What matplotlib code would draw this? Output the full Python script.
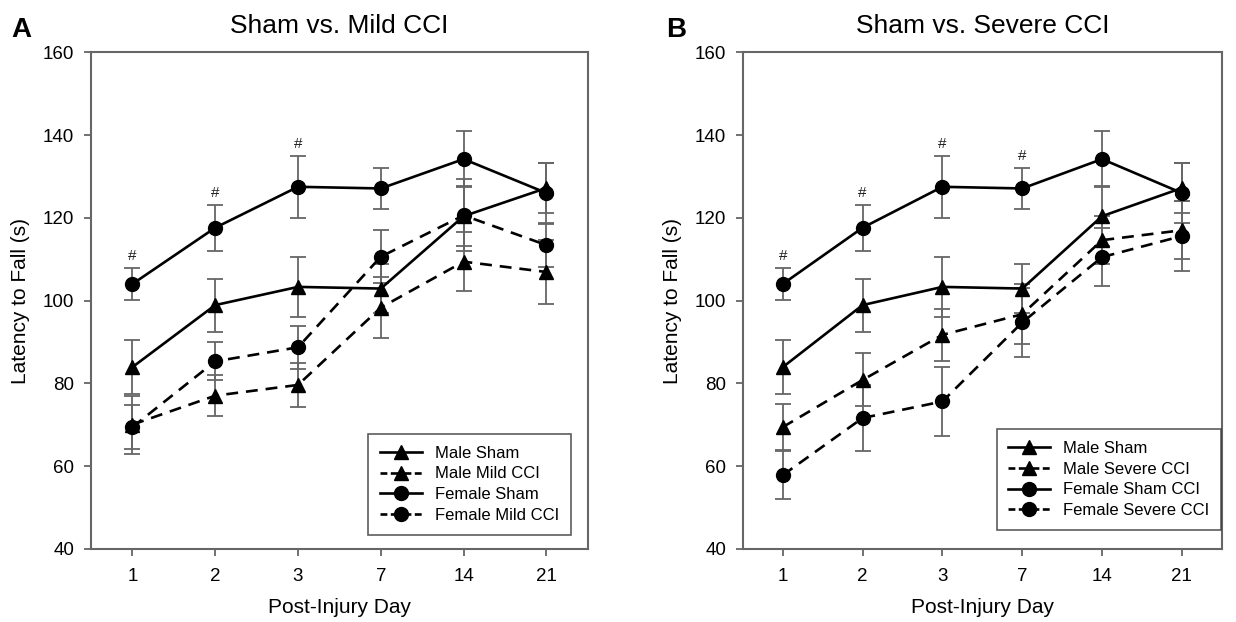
import matplotlib
matplotlib.use('Agg')
import matplotlib.pyplot as plt
from matplotlib.lines import Line2D

plt.rcParams['font.family'] = ['Liberation Sans', 'DejaVu Sans']

days = ['1', '2', '3', '7', '14', '21']

male_sham = [83.9, 98.9, 103.3, 102.9, 120.4, 127.2]
male_sham_err = [6.6, 6.4, 7.2, 6.0, 7.3, 6.0]
female_sham = [104.0, 117.6, 127.5, 127.1, 134.2, 126.0]
female_sham_err = [3.8, 5.6, 7.5, 5.0, 6.7, 7.3]

male_mild = [70.0, 77.0, 79.6, 98.3, 109.4, 106.9]
male_mild_err = [7.0, 5.0, 5.4, 7.4, 7.1, 7.8]
female_mild = [69.4, 85.3, 88.7, 110.6, 120.6, 113.4]
female_mild_err = [5.4, 4.6, 5.2, 6.4, 8.7, 5.2]

male_severe = [69.4, 80.8, 91.7, 96.7, 114.6, 117.0]
male_severe_err = [5.6, 6.4, 6.2, 7.2, 5.8, 7.0]
female_severe = [57.8, 71.6, 75.6, 94.7, 110.5, 115.6]
female_severe_err = [5.8, 8.0, 8.4, 8.4, 7.1, 8.5]

# '#' marks over female sham
hash_mild = [1, 1, 1, 0, 0, 0]
hash_severe = [1, 1, 1, 1, 0, 0]

GREY = '#666666'
DASH = (0, (4.5, 3))
# legend handle: short dash, dash under the marker, short dash (scaled by linewidth)
LEG_DASH = (0, (2.6, 1.3, 7.8, 1.3, 2.6, 2))


def draw_panel(ax, title, letter, male_cci, male_cci_err,
               female_cci, female_cci_err, hashes, legend_labels, leg_anchor):
    x = list(range(1, len(days) + 1))
    series = [
        (male_sham, male_sham_err, '^', '-'),
        (male_cci, male_cci_err, '^', DASH),
        (female_sham, female_sham_err, 'o', '-'),
        (female_cci, female_cci_err, 'o', DASH),
    ]
    for y, e, m, ls in series:
        ax.errorbar(x, y, yerr=e, fmt='none', ecolor=GREY, elinewidth=1.3,
                    capsize=6, capthick=1.3, zorder=2)
    for y, e, m, ls in series:
        ax.plot(x, y, color='black', linestyle=ls, linewidth=1.9,
                marker=m, markersize=10 if m == 'o' else 9.5,
                markerfacecolor='black', zorder=3)

    for xi, h, y, e in zip(x, hashes, female_sham, female_sham_err):
        if h:
            ax.text(xi, y + e + 1.2, '#', ha='center', va='bottom',
                    fontsize=11, color='#222222')

    ax.set_xlim(0.5, len(days) + 0.5)
    ax.set_ylim(40, 160)
    ax.set_xticks(x)
    ax.set_xticklabels(days)
    ax.set_yticks(range(40, 161, 20))
    ax.tick_params(axis='both', direction='out', length=5, width=1.3,
                   color=GREY, labelsize=13.5, pad=7)
    ax.tick_params(axis='x', pad=9)
    for s in ax.spines.values():
        s.set_color(GREY)
        s.set_linewidth(1.5)
    ax.set_xlabel('Post-Injury Day', fontsize=15, labelpad=9)
    ax.set_ylabel('Latency to Fall (s)', fontsize=15, labelpad=9)
    ax.set_title(title, fontsize=19, pad=14)
    ax.text(-0.16, 1.03, letter, transform=ax.transAxes, fontsize=20,
            fontweight='bold', ha='left', va='baseline')

    handles = []
    for y, e, m, ls in series:
        hls = '-' if ls == '-' else LEG_DASH
        handles.append(Line2D([], [], color='black', linestyle=hls, linewidth=1.9,
                              marker=m, markersize=10 if m == 'o' else 9.5))
    leg = ax.legend(handles, legend_labels, loc='lower right',
                    bbox_to_anchor=leg_anchor, fontsize=12, frameon=True,
                    fancybox=False, handlelength=2.5, borderpad=0.7,
                    labelspacing=0.35, handletextpad=0.8, borderaxespad=0)
    leg.get_frame().set_edgecolor('#333333')
    leg.get_frame().set_linewidth(1.2)


fig = plt.figure(figsize=(12.36, 6.22), dpi=100)
ax1 = fig.add_axes([0.0736, 0.1178, 0.402, 0.798])
ax2 = fig.add_axes([0.601, 0.1178, 0.3875, 0.798])

draw_panel(ax1, 'Sham vs. Mild CCI', 'A', male_mild, male_mild_err,
           female_mild, female_mild_err, hash_mild,
           ['Male Sham', 'Male Mild CCI', 'Female Sham', 'Female Mild CCI'],
           (0.966, 0.028))
draw_panel(ax2, 'Sham vs. Severe CCI', 'B', male_severe, male_severe_err,
           female_severe, female_severe_err, hash_severe,
           ['Male Sham', 'Male Severe CCI', 'Female Sham CCI', 'Female Severe CCI'],
           (0.999, 0.038))

fig.savefig('out.png', dpi=100)
